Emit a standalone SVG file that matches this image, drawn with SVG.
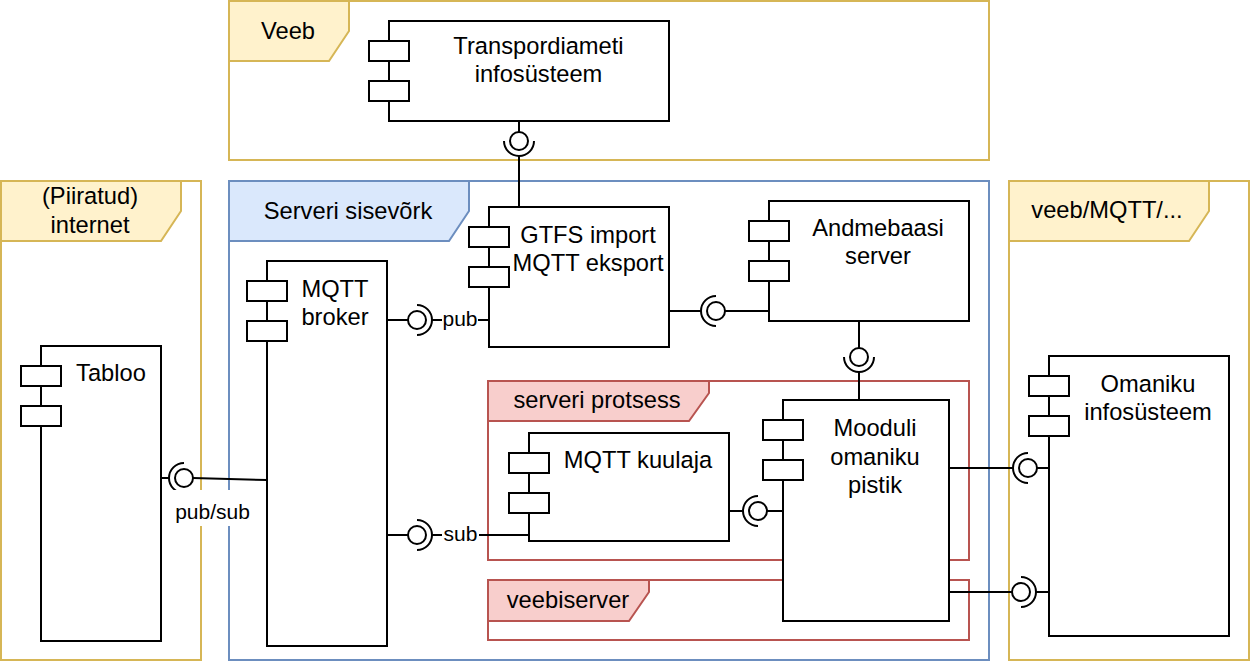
<svg xmlns="http://www.w3.org/2000/svg" width="1250" height="662" viewBox="0 0 1250 662">
<style>
text { font-family: "Liberation Sans", Arial, Helvetica, sans-serif; fill: #000; }
.t { font-size: 23.7px; text-anchor: middle; }
.el { font-size: 21px; text-anchor: middle; }
.fy { fill: #fff; stroke: #d6b656; stroke-width: 2; }
.fyl { fill: #fff2cc; stroke: #d6b656; stroke-width: 2; }
.fb { fill: #fff; stroke: #6c8ebf; stroke-width: 2; }
.fbl { fill: #dae8fc; stroke: #6c8ebf; stroke-width: 2; }
.fr { fill: #fff; stroke: #b85450; stroke-width: 2; }
.frl { fill: #f8cecc; stroke: #b85450; stroke-width: 2; }
.box { fill: #fff; stroke: #000; stroke-width: 2; }
.ln { fill: none; stroke: #000; stroke-width: 2; }
.lol { fill: #fff; stroke: #000; stroke-width: 2; }
.lbg { fill: #fff; stroke: none; }
</style>

<g id="frame-veeb">
  <rect class="fy" x="229" y="1" width="760" height="159"/>
  <polygon class="fyl" points="229,1 349,1 349,31 329,61 229,61"/>
  <text class="t" x="288" y="38.5">Veeb</text>
</g>
<g id="frame-internet">
  <rect class="fy" x="1" y="181" width="200" height="479"/>
  <polygon class="fyl" points="1,181 181,181 181,211 161,241 1,241"/>
  <text class="t" x="90" y="204">(Piiratud)</text>
  <text class="t" x="90" y="233">internet</text>
</g>
<g id="frame-sisevork">
  <rect class="fb" x="229" y="181" width="760" height="479"/>
  <polygon class="fbl" points="229,181 469,181 469,211 449,241 229,241"/>
  <text class="t" x="348" y="218.5">Serveri sisevõrk</text>
</g>
<g id="frame-veeb-mqtt">
  <rect class="fy" x="1009" y="181" width="240" height="479"/>
  <polygon class="fyl" points="1009,181 1209,181 1209,211 1189,241 1009,241"/>
  <text class="t" x="1107" y="218">veeb/MQTT/...</text>
</g>
<g id="frame-protsess">
  <rect class="fr" x="488" y="381" width="481" height="179"/>
  <polygon class="frl" points="488,381 709,381 709,393 689,421 488,421"/>
  <text class="t" x="597" y="407.5">serveri protsess</text>
</g>
<g id="frame-veebiserver">
  <rect class="fr" x="488" y="580" width="481" height="60"/>
  <polygon class="frl" points="488,580 649,580 649,592 629,621 488,621"/>
  <text class="t" x="568" y="608">veebiserver</text>
</g>

<g id="connectors">
  <!-- Transpordiameti -> GTFS -->
  <line class="ln" x1="519" y1="121" x2="519" y2="132"/>
  <path class="ln" d="M504,141 A15,15 0 0 0 534,141"/>
  <circle class="lol" cx="519" cy="141" r="9"/>
  <line class="ln" x1="519" y1="156" x2="519" y2="207"/>
  <!-- GTFS -> Andmebaasi -->
  <line class="ln" x1="669" y1="311" x2="701" y2="311"/>
  <path class="ln" d="M716,296 A15,15 0 0 0 716,326"/>
  <circle class="lol" cx="716" cy="311" r="9"/>
  <line class="ln" x1="725" y1="311" x2="769" y2="311"/>
  <!-- Andmebaasi -> Mooduli -->
  <line class="ln" x1="859" y1="321" x2="859" y2="348"/>
  <path class="ln" d="M844,357 A15,15 0 0 0 874,357"/>
  <circle class="lol" cx="859" cy="357" r="9"/>
  <line class="ln" x1="859" y1="372" x2="859" y2="400"/>
  <!-- broker -> GTFS pub -->
  <line class="ln" x1="387" y1="320" x2="408" y2="320"/>
  <path class="ln" d="M417,305 A15,15 0 0 1 417,335"/>
  <circle class="lol" cx="417" cy="320" r="9"/>
  <line class="ln" x1="432" y1="320" x2="489" y2="320"/>
  <rect class="lbg" x="442" y="309" width="36" height="24"/>
  <text class="el" x="460" y="326">pub</text>
  <!-- broker -> kuulaja sub -->
  <line class="ln" x1="387" y1="535" x2="408" y2="535"/>
  <path class="ln" d="M417,520 A15,15 0 0 1 417,550"/>
  <circle class="lol" cx="417" cy="535" r="9"/>
  <line class="ln" x1="432" y1="535" x2="530" y2="535"/>
  <rect class="lbg" x="442" y="524" width="37" height="24"/>
  <text class="el" x="460.5" y="541">sub</text>
  <!-- Tabloo -> broker pub/sub -->
  <line class="ln" x1="161" y1="478" x2="169" y2="478"/>
  <path class="ln" d="M184,463 A15,15 0 0 0 184,493"/>
  <circle class="lol" cx="184" cy="478" r="9"/>
  <line class="ln" x1="193" y1="478" x2="267" y2="480"/>
  <rect class="lbg" x="172" y="490" width="81" height="36"/>
  <text class="el" x="212.5" y="519">pub/sub</text>
  <!-- kuulaja -> Mooduli -->
  <line class="ln" x1="729" y1="511" x2="743" y2="511"/>
  <path class="ln" d="M758,496 A15,15 0 0 0 758,526"/>
  <circle class="lol" cx="758" cy="511" r="9"/>
  <line class="ln" x1="767" y1="511" x2="783" y2="511"/>
  <!-- Mooduli -> Omaniku (upper) -->
  <line class="ln" x1="949" y1="468" x2="1013" y2="468"/>
  <path class="ln" d="M1028,453 A15,15 0 0 0 1028,483"/>
  <circle class="lol" cx="1028" cy="468" r="9"/>
  <line class="ln" x1="1037" y1="468" x2="1049" y2="468"/>
  <!-- Mooduli -> Omaniku (lower) -->
  <line class="ln" x1="947" y1="592" x2="1012" y2="592"/>
  <path class="ln" d="M1021,577 A15,15 0 0 1 1021,607"/>
  <circle class="lol" cx="1021" cy="592" r="9"/>
  <line class="ln" x1="1036" y1="592" x2="1050" y2="592"/>
</g>

<g id="transpordiameti">
  <rect class="box" x="389" y="21" width="280" height="100"/>
  <rect class="box" x="369" y="41" width="40" height="20"/>
  <rect class="box" x="369" y="81" width="40" height="20"/>
  <text class="t" x="538.5" y="53.5">Transpordiameti</text>
  <text class="t" x="538.5" y="82">infosüsteem</text>
</g>
<g id="gtfs">
  <rect class="box" x="489" y="207" width="180" height="140"/>
  <rect class="box" x="469" y="227" width="40" height="20"/>
  <rect class="box" x="469" y="267" width="40" height="20"/>
  <text class="t" x="588" y="243">GTFS import</text>
  <text class="t" x="588" y="271">MQTT eksport</text>
</g>
<g id="andmebaasi">
  <rect class="box" x="769" y="201" width="200" height="120"/>
  <rect class="box" x="749" y="221" width="40" height="20"/>
  <rect class="box" x="749" y="261" width="40" height="20"/>
  <text class="t" x="878" y="235.5">Andmebaasi</text>
  <text class="t" x="878" y="264">server</text>
</g>
<g id="broker">
  <rect class="box" x="267" y="261" width="120" height="385"/>
  <rect class="box" x="247" y="281" width="40" height="20"/>
  <rect class="box" x="247" y="321" width="40" height="20"/>
  <text class="t" x="335" y="296.5">MQTT</text>
  <text class="t" x="335" y="325">broker</text>
</g>
<g id="tabloo">
  <rect class="box" x="41" y="346" width="120" height="295"/>
  <rect class="box" x="21" y="366" width="40" height="20"/>
  <rect class="box" x="21" y="406" width="40" height="20"/>
  <text class="t" x="111" y="381">Tabloo</text>
</g>
<g id="kuulaja">
  <rect class="box" x="529" y="433" width="200" height="108"/>
  <rect class="box" x="509" y="453" width="40" height="20"/>
  <rect class="box" x="509" y="493" width="40" height="20"/>
  <text class="t" x="638" y="467.5">MQTT kuulaja</text>
</g>
<g id="mooduli">
  <rect class="box" x="783" y="400" width="166" height="221"/>
  <rect class="box" x="763" y="420" width="40" height="20"/>
  <rect class="box" x="763" y="460" width="40" height="20"/>
  <text class="t" x="875" y="436">Mooduli</text>
  <text class="t" x="875" y="464.5">omaniku</text>
  <text class="t" x="875" y="493">pistik</text>
</g>
<g id="omaniku">
  <rect class="box" x="1049" y="356" width="180" height="280"/>
  <rect class="box" x="1029" y="376" width="40" height="20"/>
  <rect class="box" x="1029" y="416" width="40" height="20"/>
  <text class="t" x="1148" y="391.5">Omaniku</text>
  <text class="t" x="1148" y="420">infosüsteem</text>
</g>
</svg>
